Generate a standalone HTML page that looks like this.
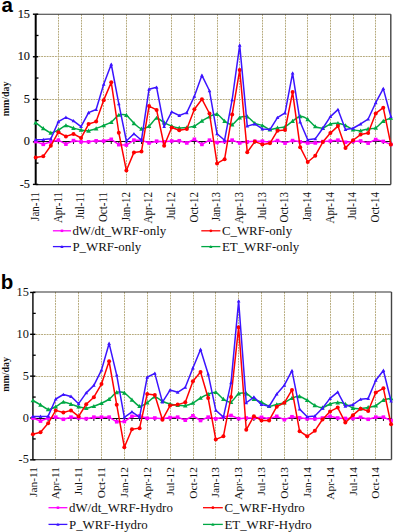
<!DOCTYPE html>
<html><head><meta charset="utf-8"><title>chart</title>
<style>html,body{margin:0;padding:0;background:#fff;}body{width:394px;height:532px;overflow:hidden;font-family:"Liberation Serif",serif;}svg{display:block;}</style>
</head><body>
<svg width="394" height="532" viewBox="0 0 394 532">
<rect width="394" height="532" fill="#fff"/>
<line x1="58.5" y1="14.3" x2="58.5" y2="184.5" stroke="#b6aa7c" stroke-width="1" stroke-dasharray="1.85,0.9"/>
<line x1="81.5" y1="14.3" x2="81.5" y2="184.5" stroke="#b6aa7c" stroke-width="1" stroke-dasharray="1.85,0.9"/>
<line x1="103.5" y1="14.3" x2="103.5" y2="184.5" stroke="#b6aa7c" stroke-width="1" stroke-dasharray="1.85,0.9"/>
<line x1="126.5" y1="14.3" x2="126.5" y2="184.5" stroke="#b6aa7c" stroke-width="1" stroke-dasharray="1.85,0.9"/>
<line x1="149.5" y1="14.3" x2="149.5" y2="184.5" stroke="#b6aa7c" stroke-width="1" stroke-dasharray="1.85,0.9"/>
<line x1="171.5" y1="14.3" x2="171.5" y2="184.5" stroke="#b6aa7c" stroke-width="1" stroke-dasharray="1.85,0.9"/>
<line x1="194.5" y1="14.3" x2="194.5" y2="184.5" stroke="#b6aa7c" stroke-width="1" stroke-dasharray="1.85,0.9"/>
<line x1="217.5" y1="14.3" x2="217.5" y2="184.5" stroke="#b6aa7c" stroke-width="1" stroke-dasharray="1.85,0.9"/>
<line x1="239.5" y1="14.3" x2="239.5" y2="184.5" stroke="#b6aa7c" stroke-width="1" stroke-dasharray="1.85,0.9"/>
<line x1="262.5" y1="14.3" x2="262.5" y2="184.5" stroke="#b6aa7c" stroke-width="1" stroke-dasharray="1.85,0.9"/>
<line x1="285.5" y1="14.3" x2="285.5" y2="184.5" stroke="#b6aa7c" stroke-width="1" stroke-dasharray="1.85,0.9"/>
<line x1="307.5" y1="14.3" x2="307.5" y2="184.5" stroke="#b6aa7c" stroke-width="1" stroke-dasharray="1.85,0.9"/>
<line x1="330.5" y1="14.3" x2="330.5" y2="184.5" stroke="#b6aa7c" stroke-width="1" stroke-dasharray="1.85,0.9"/>
<line x1="353.5" y1="14.3" x2="353.5" y2="184.5" stroke="#b6aa7c" stroke-width="1" stroke-dasharray="1.85,0.9"/>
<line x1="375.5" y1="14.3" x2="375.5" y2="184.5" stroke="#b6aa7c" stroke-width="1" stroke-dasharray="1.85,0.9"/>
<line x1="35.7" y1="99.5" x2="390.8" y2="99.5" stroke="#b6aa7c" stroke-width="1" stroke-dasharray="1.85,0.9"/>
<line x1="35.7" y1="56.5" x2="390.8" y2="56.5" stroke="#b6aa7c" stroke-width="1" stroke-dasharray="1.85,0.9"/>
<line x1="35.7" y1="14.3" x2="390.8" y2="14.3" stroke="#333" stroke-width="1.1"/>
<line x1="390.8" y1="14.3" x2="390.8" y2="184.5" stroke="#444" stroke-width="1.4"/>
<line x1="35.7" y1="184.5" x2="390.8" y2="184.5" stroke="#2a2a2a" stroke-width="1.25"/>
<line x1="35.7" y1="141.5" x2="390.8" y2="141.5" stroke="#111" stroke-width="1"/>
<line x1="43.26" y1="141.5" x2="43.26" y2="144" stroke="#111" stroke-width="1"/>
<line x1="50.81" y1="141.5" x2="50.81" y2="144" stroke="#111" stroke-width="1"/>
<line x1="58.37" y1="141.5" x2="58.37" y2="144" stroke="#111" stroke-width="1"/>
<line x1="65.92" y1="141.5" x2="65.92" y2="144" stroke="#111" stroke-width="1"/>
<line x1="73.48" y1="141.5" x2="73.48" y2="144" stroke="#111" stroke-width="1"/>
<line x1="81.04" y1="141.5" x2="81.04" y2="144" stroke="#111" stroke-width="1"/>
<line x1="88.59" y1="141.5" x2="88.59" y2="144" stroke="#111" stroke-width="1"/>
<line x1="96.15" y1="141.5" x2="96.15" y2="144" stroke="#111" stroke-width="1"/>
<line x1="103.7" y1="141.5" x2="103.7" y2="144" stroke="#111" stroke-width="1"/>
<line x1="111.26" y1="141.5" x2="111.26" y2="144" stroke="#111" stroke-width="1"/>
<line x1="118.82" y1="141.5" x2="118.82" y2="144" stroke="#111" stroke-width="1"/>
<line x1="126.37" y1="141.5" x2="126.37" y2="144" stroke="#111" stroke-width="1"/>
<line x1="133.93" y1="141.5" x2="133.93" y2="144" stroke="#111" stroke-width="1"/>
<line x1="141.48" y1="141.5" x2="141.48" y2="144" stroke="#111" stroke-width="1"/>
<line x1="149.04" y1="141.5" x2="149.04" y2="144" stroke="#111" stroke-width="1"/>
<line x1="156.6" y1="141.5" x2="156.6" y2="144" stroke="#111" stroke-width="1"/>
<line x1="164.15" y1="141.5" x2="164.15" y2="144" stroke="#111" stroke-width="1"/>
<line x1="171.71" y1="141.5" x2="171.71" y2="144" stroke="#111" stroke-width="1"/>
<line x1="179.26" y1="141.5" x2="179.26" y2="144" stroke="#111" stroke-width="1"/>
<line x1="186.82" y1="141.5" x2="186.82" y2="144" stroke="#111" stroke-width="1"/>
<line x1="194.38" y1="141.5" x2="194.38" y2="144" stroke="#111" stroke-width="1"/>
<line x1="201.93" y1="141.5" x2="201.93" y2="144" stroke="#111" stroke-width="1"/>
<line x1="209.49" y1="141.5" x2="209.49" y2="144" stroke="#111" stroke-width="1"/>
<line x1="217.04" y1="141.5" x2="217.04" y2="144" stroke="#111" stroke-width="1"/>
<line x1="224.6" y1="141.5" x2="224.6" y2="144" stroke="#111" stroke-width="1"/>
<line x1="232.16" y1="141.5" x2="232.16" y2="144" stroke="#111" stroke-width="1"/>
<line x1="239.71" y1="141.5" x2="239.71" y2="144" stroke="#111" stroke-width="1"/>
<line x1="247.27" y1="141.5" x2="247.27" y2="144" stroke="#111" stroke-width="1"/>
<line x1="254.82" y1="141.5" x2="254.82" y2="144" stroke="#111" stroke-width="1"/>
<line x1="262.38" y1="141.5" x2="262.38" y2="144" stroke="#111" stroke-width="1"/>
<line x1="269.94" y1="141.5" x2="269.94" y2="144" stroke="#111" stroke-width="1"/>
<line x1="277.49" y1="141.5" x2="277.49" y2="144" stroke="#111" stroke-width="1"/>
<line x1="285.05" y1="141.5" x2="285.05" y2="144" stroke="#111" stroke-width="1"/>
<line x1="292.6" y1="141.5" x2="292.6" y2="144" stroke="#111" stroke-width="1"/>
<line x1="300.16" y1="141.5" x2="300.16" y2="144" stroke="#111" stroke-width="1"/>
<line x1="307.72" y1="141.5" x2="307.72" y2="144" stroke="#111" stroke-width="1"/>
<line x1="315.27" y1="141.5" x2="315.27" y2="144" stroke="#111" stroke-width="1"/>
<line x1="322.83" y1="141.5" x2="322.83" y2="144" stroke="#111" stroke-width="1"/>
<line x1="330.38" y1="141.5" x2="330.38" y2="144" stroke="#111" stroke-width="1"/>
<line x1="337.94" y1="141.5" x2="337.94" y2="144" stroke="#111" stroke-width="1"/>
<line x1="345.5" y1="141.5" x2="345.5" y2="144" stroke="#111" stroke-width="1"/>
<line x1="353.05" y1="141.5" x2="353.05" y2="144" stroke="#111" stroke-width="1"/>
<line x1="360.61" y1="141.5" x2="360.61" y2="144" stroke="#111" stroke-width="1"/>
<line x1="368.16" y1="141.5" x2="368.16" y2="144" stroke="#111" stroke-width="1"/>
<line x1="375.72" y1="141.5" x2="375.72" y2="144" stroke="#111" stroke-width="1"/>
<line x1="383.28" y1="141.5" x2="383.28" y2="144" stroke="#111" stroke-width="1"/>
<line x1="390.83" y1="141.5" x2="390.83" y2="144" stroke="#111" stroke-width="1"/>
<line x1="35.7" y1="14.3" x2="35.7" y2="184.5" stroke="#000" stroke-width="2"/>
<line x1="32.9" y1="184.4" x2="38.2" y2="184.4" stroke="#000" stroke-width="1.4"/>
<line x1="32.9" y1="141.85" x2="38.2" y2="141.85" stroke="#000" stroke-width="1.4"/>
<line x1="32.9" y1="99.3" x2="38.2" y2="99.3" stroke="#000" stroke-width="1.4"/>
<line x1="32.9" y1="56.75" x2="38.2" y2="56.75" stroke="#000" stroke-width="1.4"/>
<line x1="32.9" y1="14.2" x2="38.2" y2="14.2" stroke="#000" stroke-width="1.4"/>
<line x1="35.7" y1="163.12" x2="38.5" y2="163.12" stroke="#000" stroke-width="1.3"/>
<line x1="35.7" y1="120.57" x2="38.5" y2="120.57" stroke="#000" stroke-width="1.3"/>
<line x1="35.7" y1="78.03" x2="38.5" y2="78.03" stroke="#000" stroke-width="1.3"/>
<line x1="35.7" y1="35.47" x2="38.5" y2="35.47" stroke="#000" stroke-width="1.3"/>
<text x="30" y="187.9" font-family="Liberation Serif" font-size="12.3" text-anchor="end" fill="#111" stroke="#111" stroke-width="0.15">-5</text>
<text x="30" y="145.35" font-family="Liberation Serif" font-size="12.3" text-anchor="end" fill="#111" stroke="#111" stroke-width="0.15">0</text>
<text x="30" y="102.8" font-family="Liberation Serif" font-size="12.3" text-anchor="end" fill="#111" stroke="#111" stroke-width="0.15">5</text>
<text x="30" y="60.25" font-family="Liberation Serif" font-size="12.3" text-anchor="end" fill="#111" stroke="#111" stroke-width="0.15">10</text>
<text x="30" y="17.7" font-family="Liberation Serif" font-size="12.3" text-anchor="end" fill="#111" stroke="#111" stroke-width="0.15">15</text>
<text transform="translate(39,192) rotate(-90) scale(1,1.05)" font-family="Liberation Serif" font-size="11.0" text-anchor="end" fill="#111" stroke="#111" stroke-width="0">Jan-11</text>
<text transform="translate(61.67,192) rotate(-90) scale(1,1.05)" font-family="Liberation Serif" font-size="11.0" text-anchor="end" fill="#111" stroke="#111" stroke-width="0">Apr-11</text>
<text transform="translate(84.34,192) rotate(-90) scale(1,1.05)" font-family="Liberation Serif" font-size="11.0" text-anchor="end" fill="#111" stroke="#111" stroke-width="0">Jul-11</text>
<text transform="translate(107,192) rotate(-90) scale(1,1.05)" font-family="Liberation Serif" font-size="11.0" text-anchor="end" fill="#111" stroke="#111" stroke-width="0">Oct-11</text>
<text transform="translate(129.67,192) rotate(-90) scale(1,1.05)" font-family="Liberation Serif" font-size="11.0" text-anchor="end" fill="#111" stroke="#111" stroke-width="0">Jan-12</text>
<text transform="translate(152.34,192) rotate(-90) scale(1,1.05)" font-family="Liberation Serif" font-size="11.0" text-anchor="end" fill="#111" stroke="#111" stroke-width="0">Apr-12</text>
<text transform="translate(175.01,192) rotate(-90) scale(1,1.05)" font-family="Liberation Serif" font-size="11.0" text-anchor="end" fill="#111" stroke="#111" stroke-width="0">Jul-12</text>
<text transform="translate(197.68,192) rotate(-90) scale(1,1.05)" font-family="Liberation Serif" font-size="11.0" text-anchor="end" fill="#111" stroke="#111" stroke-width="0">Oct-12</text>
<text transform="translate(220.34,192) rotate(-90) scale(1,1.05)" font-family="Liberation Serif" font-size="11.0" text-anchor="end" fill="#111" stroke="#111" stroke-width="0">Jan-13</text>
<text transform="translate(243.01,192) rotate(-90) scale(1,1.05)" font-family="Liberation Serif" font-size="11.0" text-anchor="end" fill="#111" stroke="#111" stroke-width="0">Apr-13</text>
<text transform="translate(265.68,192) rotate(-90) scale(1,1.05)" font-family="Liberation Serif" font-size="11.0" text-anchor="end" fill="#111" stroke="#111" stroke-width="0">Jul-13</text>
<text transform="translate(288.35,192) rotate(-90) scale(1,1.05)" font-family="Liberation Serif" font-size="11.0" text-anchor="end" fill="#111" stroke="#111" stroke-width="0">Oct-13</text>
<text transform="translate(311.02,192) rotate(-90) scale(1,1.05)" font-family="Liberation Serif" font-size="11.0" text-anchor="end" fill="#111" stroke="#111" stroke-width="0">Jan-14</text>
<text transform="translate(333.68,192) rotate(-90) scale(1,1.05)" font-family="Liberation Serif" font-size="11.0" text-anchor="end" fill="#111" stroke="#111" stroke-width="0">Apr-14</text>
<text transform="translate(356.35,192) rotate(-90) scale(1,1.05)" font-family="Liberation Serif" font-size="11.0" text-anchor="end" fill="#111" stroke="#111" stroke-width="0">Jul-14</text>
<text transform="translate(379.02,192) rotate(-90) scale(1,1.05)" font-family="Liberation Serif" font-size="11.0" text-anchor="end" fill="#111" stroke="#111" stroke-width="0">Oct-14</text>
<text transform="translate(9.1,98.9) rotate(-90) scale(0.95,1.08)" font-family="Liberation Serif" font-weight="bold" font-size="10.5" text-anchor="middle" fill="#111">mm/day</text>
<text x="1.4" y="11.6" font-family="Liberation Sans" font-weight="bold" font-size="20.5" fill="#000">a</text>
<path d="M35.7,141.59 L43.26,144.32 L50.81,141.85 L58.37,140.15 L65.92,144.15 L73.48,140.57 L81.04,141.85 L88.59,141.85 L96.15,140.83 L103.7,141 L111.26,139.3 L118.82,144.66 L126.37,145.08 L133.93,140.15 L141.48,140.15 L149.04,142.96 L156.6,141.17 L164.15,141.85 L171.71,141 L179.26,140.74 L186.82,142.96 L194.38,139.3 L201.93,144.4 L209.49,140.15 L217.04,142.53 L224.6,141.59 L232.16,140.15 L239.71,142.96 L247.27,141.85 L254.82,141.25 L262.38,141.17 L269.94,142.28 L277.49,140.57 L285.05,143.13 L292.6,140.57 L300.16,141.85 L307.72,142.96 L315.27,142.96 L322.83,141.59 L330.38,141 L337.94,140.15 L345.5,142.28 L353.05,141.42 L360.61,141 L368.16,143.13 L375.72,139.55 L383.28,141.42 L390.83,144.4" fill="none" stroke="#ff00ff" stroke-width="1.5" stroke-linejoin="round"/>
<rect x="33.9" y="139.79" width="3.6" height="3.6" fill="#ff00ff"/><rect x="41.46" y="142.52" width="3.6" height="3.6" fill="#ff00ff"/><rect x="49.01" y="140.05" width="3.6" height="3.6" fill="#ff00ff"/><rect x="56.57" y="138.35" width="3.6" height="3.6" fill="#ff00ff"/><rect x="64.12" y="142.35" width="3.6" height="3.6" fill="#ff00ff"/><rect x="71.68" y="138.77" width="3.6" height="3.6" fill="#ff00ff"/><rect x="79.24" y="140.05" width="3.6" height="3.6" fill="#ff00ff"/><rect x="86.79" y="140.05" width="3.6" height="3.6" fill="#ff00ff"/><rect x="94.35" y="139.03" width="3.6" height="3.6" fill="#ff00ff"/><rect x="101.9" y="139.2" width="3.6" height="3.6" fill="#ff00ff"/><rect x="109.46" y="137.5" width="3.6" height="3.6" fill="#ff00ff"/><rect x="117.02" y="142.86" width="3.6" height="3.6" fill="#ff00ff"/><rect x="124.57" y="143.28" width="3.6" height="3.6" fill="#ff00ff"/><rect x="132.13" y="138.35" width="3.6" height="3.6" fill="#ff00ff"/><rect x="139.68" y="138.35" width="3.6" height="3.6" fill="#ff00ff"/><rect x="147.24" y="141.16" width="3.6" height="3.6" fill="#ff00ff"/><rect x="154.8" y="139.37" width="3.6" height="3.6" fill="#ff00ff"/><rect x="162.35" y="140.05" width="3.6" height="3.6" fill="#ff00ff"/><rect x="169.91" y="139.2" width="3.6" height="3.6" fill="#ff00ff"/><rect x="177.46" y="138.94" width="3.6" height="3.6" fill="#ff00ff"/><rect x="185.02" y="141.16" width="3.6" height="3.6" fill="#ff00ff"/><rect x="192.58" y="137.5" width="3.6" height="3.6" fill="#ff00ff"/><rect x="200.13" y="142.6" width="3.6" height="3.6" fill="#ff00ff"/><rect x="207.69" y="138.35" width="3.6" height="3.6" fill="#ff00ff"/><rect x="215.24" y="140.73" width="3.6" height="3.6" fill="#ff00ff"/><rect x="222.8" y="139.79" width="3.6" height="3.6" fill="#ff00ff"/><rect x="230.36" y="138.35" width="3.6" height="3.6" fill="#ff00ff"/><rect x="237.91" y="141.16" width="3.6" height="3.6" fill="#ff00ff"/><rect x="245.47" y="140.05" width="3.6" height="3.6" fill="#ff00ff"/><rect x="253.02" y="139.45" width="3.6" height="3.6" fill="#ff00ff"/><rect x="260.58" y="139.37" width="3.6" height="3.6" fill="#ff00ff"/><rect x="268.14" y="140.48" width="3.6" height="3.6" fill="#ff00ff"/><rect x="275.69" y="138.77" width="3.6" height="3.6" fill="#ff00ff"/><rect x="283.25" y="141.33" width="3.6" height="3.6" fill="#ff00ff"/><rect x="290.8" y="138.77" width="3.6" height="3.6" fill="#ff00ff"/><rect x="298.36" y="140.05" width="3.6" height="3.6" fill="#ff00ff"/><rect x="305.92" y="141.16" width="3.6" height="3.6" fill="#ff00ff"/><rect x="313.47" y="141.16" width="3.6" height="3.6" fill="#ff00ff"/><rect x="321.03" y="139.79" width="3.6" height="3.6" fill="#ff00ff"/><rect x="328.58" y="139.2" width="3.6" height="3.6" fill="#ff00ff"/><rect x="336.14" y="138.35" width="3.6" height="3.6" fill="#ff00ff"/><rect x="343.7" y="140.48" width="3.6" height="3.6" fill="#ff00ff"/><rect x="351.25" y="139.62" width="3.6" height="3.6" fill="#ff00ff"/><rect x="358.81" y="139.2" width="3.6" height="3.6" fill="#ff00ff"/><rect x="366.36" y="141.33" width="3.6" height="3.6" fill="#ff00ff"/><rect x="373.92" y="137.75" width="3.6" height="3.6" fill="#ff00ff"/><rect x="381.48" y="139.62" width="3.6" height="3.6" fill="#ff00ff"/><rect x="389.03" y="142.6" width="3.6" height="3.6" fill="#ff00ff"/>
<path d="M35.7,122.7 C36.46,123.27 41.74,127.39 43.26,128.4 C44.77,129.42 49.3,132.67 50.81,132.83 C52.32,132.99 56.86,130.75 58.37,130.02 C59.88,129.29 64.41,125.7 65.92,125.51 C67.44,125.32 71.97,127.71 73.48,128.15 C74.99,128.59 79.52,129.67 81.04,129.94 C82.55,130.2 87.08,130.92 88.59,130.79 C90.1,130.65 94.64,129.11 96.15,128.57 C97.66,128.04 102.19,126.06 103.7,125.43 C105.22,124.79 109.75,123.24 111.26,122.19 C112.77,121.15 117.3,115.67 118.82,114.96 C120.33,114.24 124.86,114.21 126.37,115.04 C127.88,115.88 132.42,121.91 133.93,123.3 C135.44,124.69 139.97,128.63 141.48,128.91 C143,129.2 147.53,127.2 149.04,126.11 C150.55,125.02 155.08,118.37 156.6,118.02 C158.11,117.67 162.64,121.81 164.15,122.62 C165.66,123.43 170.2,125.58 171.71,126.11 C173.22,126.63 177.75,127.76 179.26,127.89 C180.78,128.03 185.31,127.65 186.82,127.47 C188.33,127.29 192.86,126.76 194.38,126.11 C195.89,125.45 200.42,121.87 201.93,120.92 C203.44,119.96 207.98,117.26 209.49,116.58 C211,115.89 215.53,113.66 217.04,114.11 C218.56,114.56 223.09,120.03 224.6,121.09 C226.11,122.14 230.64,125.01 232.16,124.66 C233.67,124.31 238.2,118.4 239.71,117.6 C241.22,116.79 245.76,116.01 247.27,116.58 C248.78,117.15 253.31,122.41 254.82,123.3 C256.34,124.18 260.87,124.8 262.38,125.43 C263.89,126.06 268.42,129.35 269.94,129.6 C271.45,129.84 275.98,128.17 277.49,127.89 C279,127.61 283.54,127.47 285.05,126.79 C286.56,126.11 291.09,122.13 292.6,121.09 C294.12,120.04 298.65,116.5 300.16,116.32 C301.67,116.14 306.2,118.28 307.72,119.3 C309.23,120.32 313.76,125.64 315.27,126.53 C316.78,127.43 321.32,128.49 322.83,128.23 C324.34,127.98 328.87,124.47 330.38,123.98 C331.9,123.49 336.43,123.15 337.94,123.3 C339.45,123.44 343.98,124.8 345.5,125.43 C347.01,126.06 351.54,129.07 353.05,129.6 C354.56,130.12 359.1,130.77 360.61,130.7 C362.12,130.63 366.65,129.2 368.16,128.91 C369.68,128.63 374.21,128.68 375.72,127.89 C377.23,127.11 381.76,122.07 383.28,121.09 C384.79,120.1 390.08,118.33 390.83,118.02" fill="none" stroke="#00a844" stroke-width="1.5" stroke-linejoin="round"/>
<path d="M35.7,120.4 L38,124.54 L33.4,124.54Z" fill="#00a844"/><path d="M43.26,126.1 L45.56,130.24 L40.96,130.24Z" fill="#00a844"/><path d="M50.81,130.53 L53.11,134.67 L48.51,134.67Z" fill="#00a844"/><path d="M58.37,127.72 L60.67,131.86 L56.07,131.86Z" fill="#00a844"/><path d="M65.92,123.21 L68.22,127.35 L63.62,127.35Z" fill="#00a844"/><path d="M73.48,125.85 L75.78,129.99 L71.18,129.99Z" fill="#00a844"/><path d="M81.04,127.64 L83.34,131.78 L78.74,131.78Z" fill="#00a844"/><path d="M88.59,128.49 L90.89,132.63 L86.29,132.63Z" fill="#00a844"/><path d="M96.15,126.27 L98.45,130.41 L93.85,130.41Z" fill="#00a844"/><path d="M103.7,123.13 L106,127.27 L101.4,127.27Z" fill="#00a844"/><path d="M111.26,119.89 L113.56,124.03 L108.96,124.03Z" fill="#00a844"/><path d="M118.82,112.66 L121.12,116.8 L116.52,116.8Z" fill="#00a844"/><path d="M126.37,112.74 L128.67,116.88 L124.07,116.88Z" fill="#00a844"/><path d="M133.93,121 L136.23,125.14 L131.63,125.14Z" fill="#00a844"/><path d="M141.48,126.61 L143.78,130.75 L139.18,130.75Z" fill="#00a844"/><path d="M149.04,123.81 L151.34,127.95 L146.74,127.95Z" fill="#00a844"/><path d="M156.6,115.72 L158.9,119.86 L154.3,119.86Z" fill="#00a844"/><path d="M164.15,120.32 L166.45,124.46 L161.85,124.46Z" fill="#00a844"/><path d="M171.71,123.81 L174.01,127.95 L169.41,127.95Z" fill="#00a844"/><path d="M179.26,125.59 L181.56,129.73 L176.96,129.73Z" fill="#00a844"/><path d="M186.82,125.17 L189.12,129.31 L184.52,129.31Z" fill="#00a844"/><path d="M194.38,123.81 L196.68,127.95 L192.08,127.95Z" fill="#00a844"/><path d="M201.93,118.62 L204.23,122.76 L199.63,122.76Z" fill="#00a844"/><path d="M209.49,114.28 L211.79,118.42 L207.19,118.42Z" fill="#00a844"/><path d="M217.04,111.81 L219.34,115.95 L214.74,115.95Z" fill="#00a844"/><path d="M224.6,118.79 L226.9,122.93 L222.3,122.93Z" fill="#00a844"/><path d="M232.16,122.36 L234.46,126.5 L229.86,126.5Z" fill="#00a844"/><path d="M239.71,115.3 L242.01,119.44 L237.41,119.44Z" fill="#00a844"/><path d="M247.27,114.28 L249.57,118.42 L244.97,118.42Z" fill="#00a844"/><path d="M254.82,121 L257.12,125.14 L252.52,125.14Z" fill="#00a844"/><path d="M262.38,123.13 L264.68,127.27 L260.08,127.27Z" fill="#00a844"/><path d="M269.94,127.3 L272.24,131.44 L267.64,131.44Z" fill="#00a844"/><path d="M277.49,125.59 L279.79,129.73 L275.19,129.73Z" fill="#00a844"/><path d="M285.05,124.49 L287.35,128.63 L282.75,128.63Z" fill="#00a844"/><path d="M292.6,118.79 L294.9,122.93 L290.3,122.93Z" fill="#00a844"/><path d="M300.16,114.02 L302.46,118.16 L297.86,118.16Z" fill="#00a844"/><path d="M307.72,117 L310.02,121.14 L305.42,121.14Z" fill="#00a844"/><path d="M315.27,124.23 L317.57,128.37 L312.97,128.37Z" fill="#00a844"/><path d="M322.83,125.93 L325.13,130.07 L320.53,130.07Z" fill="#00a844"/><path d="M330.38,121.68 L332.68,125.82 L328.08,125.82Z" fill="#00a844"/><path d="M337.94,121 L340.24,125.14 L335.64,125.14Z" fill="#00a844"/><path d="M345.5,123.13 L347.8,127.27 L343.2,127.27Z" fill="#00a844"/><path d="M353.05,127.3 L355.35,131.44 L350.75,131.44Z" fill="#00a844"/><path d="M360.61,128.4 L362.91,132.54 L358.31,132.54Z" fill="#00a844"/><path d="M368.16,126.61 L370.46,130.75 L365.86,130.75Z" fill="#00a844"/><path d="M375.72,125.59 L378.02,129.73 L373.42,129.73Z" fill="#00a844"/><path d="M383.28,118.79 L385.58,122.93 L380.98,122.93Z" fill="#00a844"/><path d="M390.83,115.72 L393.13,119.86 L388.53,119.86Z" fill="#00a844"/>
<path d="M35.7,157.59 L43.26,156.32 L50.81,145.76 L58.37,132.23 L65.92,136.4 L73.48,133.94 L81.04,138.02 L88.59,124.06 L96.15,121.6 L103.7,100.15 L111.26,82.37 L118.82,132.74 L126.37,170.53 L133.93,152.4 L141.48,151.47 L149.04,106.11 L156.6,109.94 L164.15,145.76 L171.71,127.47 L179.26,130.28 L186.82,128.91 L194.38,109.26 L201.93,99.21 L209.49,113.51 L217.04,163.38 L224.6,159.21 L232.16,114.62 L239.71,69.94 L247.27,152.23 L254.82,141.59 L262.38,144.4 L269.94,143.3 L277.49,130.7 L285.05,130.02 L292.6,92.07 L300.16,147.21 L307.72,162.02 L315.27,155.72 L322.83,142.02 L330.38,133.08 L337.94,126.11 L345.5,147.89 L353.05,140.23 L360.61,134.53 L368.16,133.08 L375.72,113.43 L383.28,107.72 L390.83,144.4" fill="none" stroke="#ff0000" stroke-width="1.5" stroke-linejoin="round"/>
<circle cx="35.7" cy="157.59" r="2" fill="#ff0000"/><circle cx="43.26" cy="156.32" r="2" fill="#ff0000"/><circle cx="50.81" cy="145.76" r="2" fill="#ff0000"/><circle cx="58.37" cy="132.23" r="2" fill="#ff0000"/><circle cx="65.92" cy="136.4" r="2" fill="#ff0000"/><circle cx="73.48" cy="133.94" r="2" fill="#ff0000"/><circle cx="81.04" cy="138.02" r="2" fill="#ff0000"/><circle cx="88.59" cy="124.06" r="2" fill="#ff0000"/><circle cx="96.15" cy="121.6" r="2" fill="#ff0000"/><circle cx="103.7" cy="100.15" r="2" fill="#ff0000"/><circle cx="111.26" cy="82.37" r="2" fill="#ff0000"/><circle cx="118.82" cy="132.74" r="2" fill="#ff0000"/><circle cx="126.37" cy="170.53" r="2" fill="#ff0000"/><circle cx="133.93" cy="152.4" r="2" fill="#ff0000"/><circle cx="141.48" cy="151.47" r="2" fill="#ff0000"/><circle cx="149.04" cy="106.11" r="2" fill="#ff0000"/><circle cx="156.6" cy="109.94" r="2" fill="#ff0000"/><circle cx="164.15" cy="145.76" r="2" fill="#ff0000"/><circle cx="171.71" cy="127.47" r="2" fill="#ff0000"/><circle cx="179.26" cy="130.28" r="2" fill="#ff0000"/><circle cx="186.82" cy="128.91" r="2" fill="#ff0000"/><circle cx="194.38" cy="109.26" r="2" fill="#ff0000"/><circle cx="201.93" cy="99.21" r="2" fill="#ff0000"/><circle cx="209.49" cy="113.51" r="2" fill="#ff0000"/><circle cx="217.04" cy="163.38" r="2" fill="#ff0000"/><circle cx="224.6" cy="159.21" r="2" fill="#ff0000"/><circle cx="232.16" cy="114.62" r="2" fill="#ff0000"/><circle cx="239.71" cy="69.94" r="2" fill="#ff0000"/><circle cx="247.27" cy="152.23" r="2" fill="#ff0000"/><circle cx="254.82" cy="141.59" r="2" fill="#ff0000"/><circle cx="262.38" cy="144.4" r="2" fill="#ff0000"/><circle cx="269.94" cy="143.3" r="2" fill="#ff0000"/><circle cx="277.49" cy="130.7" r="2" fill="#ff0000"/><circle cx="285.05" cy="130.02" r="2" fill="#ff0000"/><circle cx="292.6" cy="92.07" r="2" fill="#ff0000"/><circle cx="300.16" cy="147.21" r="2" fill="#ff0000"/><circle cx="307.72" cy="162.02" r="2" fill="#ff0000"/><circle cx="315.27" cy="155.72" r="2" fill="#ff0000"/><circle cx="322.83" cy="142.02" r="2" fill="#ff0000"/><circle cx="330.38" cy="133.08" r="2" fill="#ff0000"/><circle cx="337.94" cy="126.11" r="2" fill="#ff0000"/><circle cx="345.5" cy="147.89" r="2" fill="#ff0000"/><circle cx="353.05" cy="140.23" r="2" fill="#ff0000"/><circle cx="360.61" cy="134.53" r="2" fill="#ff0000"/><circle cx="368.16" cy="133.08" r="2" fill="#ff0000"/><circle cx="375.72" cy="113.43" r="2" fill="#ff0000"/><circle cx="383.28" cy="107.72" r="2" fill="#ff0000"/><circle cx="390.83" cy="144.4" r="2" fill="#ff0000"/>
<path d="M35.7,139.81 L43.26,139.55 L50.81,138.87 L58.37,121.68 L65.92,117.43 L73.48,120.83 L81.04,126.53 L88.59,112.66 L96.15,109.51 L103.7,84.32 L111.26,64.24 L118.82,103.9 L126.37,141 L133.93,133.77 L141.48,140.23 L149.04,89.17 L156.6,87.3 L164.15,126.53 L171.71,111.81 L179.26,115.47 L186.82,112.66 L194.38,96.24 L201.93,75.3 L209.49,90.79 L217.04,133.77 L224.6,140.23 L232.16,99.73 L239.71,45.18 L247.27,126.11 L254.82,123.98 L262.38,128.91 L269.94,129.6 L277.49,117.6 L285.05,112.92 L292.6,73.09 L300.16,121.94 L307.72,139.72 L315.27,138.87 L322.83,128.23 L330.38,116.58 L337.94,109.6 L345.5,129.6 L353.05,128.23 L360.61,123.98 L368.16,119.04 L375.72,102.7 L383.28,88.58 L390.83,116.58" fill="none" stroke="#3c14ff" stroke-width="1.5" stroke-linejoin="round"/>
<path d="M35.7,137.97 L37.54,141.28 L33.86,141.28Z" fill="#3c14ff"/><path d="M43.26,137.71 L45.1,141.02 L41.42,141.02Z" fill="#3c14ff"/><path d="M50.81,137.03 L52.65,140.34 L48.97,140.34Z" fill="#3c14ff"/><path d="M58.37,119.84 L60.21,123.15 L56.53,123.15Z" fill="#3c14ff"/><path d="M65.92,115.59 L67.76,118.9 L64.08,118.9Z" fill="#3c14ff"/><path d="M73.48,118.99 L75.32,122.3 L71.64,122.3Z" fill="#3c14ff"/><path d="M81.04,124.69 L82.88,128 L79.2,128Z" fill="#3c14ff"/><path d="M88.59,110.82 L90.43,114.13 L86.75,114.13Z" fill="#3c14ff"/><path d="M96.15,107.67 L97.99,110.98 L94.31,110.98Z" fill="#3c14ff"/><path d="M103.7,82.48 L105.54,85.79 L101.86,85.79Z" fill="#3c14ff"/><path d="M111.26,62.4 L113.1,65.71 L109.42,65.71Z" fill="#3c14ff"/><path d="M118.82,102.06 L120.66,105.37 L116.98,105.37Z" fill="#3c14ff"/><path d="M126.37,139.16 L128.21,142.47 L124.53,142.47Z" fill="#3c14ff"/><path d="M133.93,131.93 L135.77,135.24 L132.09,135.24Z" fill="#3c14ff"/><path d="M141.48,138.39 L143.32,141.71 L139.64,141.71Z" fill="#3c14ff"/><path d="M149.04,87.33 L150.88,90.65 L147.2,90.65Z" fill="#3c14ff"/><path d="M156.6,85.46 L158.44,88.77 L154.76,88.77Z" fill="#3c14ff"/><path d="M164.15,124.69 L165.99,128 L162.31,128Z" fill="#3c14ff"/><path d="M171.71,109.97 L173.55,113.28 L169.87,113.28Z" fill="#3c14ff"/><path d="M179.26,113.63 L181.1,116.94 L177.42,116.94Z" fill="#3c14ff"/><path d="M186.82,110.82 L188.66,114.13 L184.98,114.13Z" fill="#3c14ff"/><path d="M194.38,94.4 L196.22,97.71 L192.54,97.71Z" fill="#3c14ff"/><path d="M201.93,73.46 L203.77,76.77 L200.09,76.77Z" fill="#3c14ff"/><path d="M209.49,88.95 L211.33,92.26 L207.65,92.26Z" fill="#3c14ff"/><path d="M217.04,131.93 L218.88,135.24 L215.2,135.24Z" fill="#3c14ff"/><path d="M224.6,138.39 L226.44,141.71 L222.76,141.71Z" fill="#3c14ff"/><path d="M232.16,97.89 L234,101.2 L230.32,101.2Z" fill="#3c14ff"/><path d="M239.71,43.34 L241.55,46.65 L237.87,46.65Z" fill="#3c14ff"/><path d="M247.27,124.27 L249.11,127.58 L245.43,127.58Z" fill="#3c14ff"/><path d="M254.82,122.14 L256.66,125.45 L252.98,125.45Z" fill="#3c14ff"/><path d="M262.38,127.07 L264.22,130.39 L260.54,130.39Z" fill="#3c14ff"/><path d="M269.94,127.76 L271.78,131.07 L268.1,131.07Z" fill="#3c14ff"/><path d="M277.49,115.76 L279.33,119.07 L275.65,119.07Z" fill="#3c14ff"/><path d="M285.05,111.08 L286.89,114.39 L283.21,114.39Z" fill="#3c14ff"/><path d="M292.6,71.25 L294.44,74.56 L290.76,74.56Z" fill="#3c14ff"/><path d="M300.16,120.1 L302,123.41 L298.32,123.41Z" fill="#3c14ff"/><path d="M307.72,137.88 L309.56,141.19 L305.88,141.19Z" fill="#3c14ff"/><path d="M315.27,137.03 L317.11,140.34 L313.43,140.34Z" fill="#3c14ff"/><path d="M322.83,126.39 L324.67,129.71 L320.99,129.71Z" fill="#3c14ff"/><path d="M330.38,114.74 L332.22,118.05 L328.54,118.05Z" fill="#3c14ff"/><path d="M337.94,107.76 L339.78,111.07 L336.1,111.07Z" fill="#3c14ff"/><path d="M345.5,127.76 L347.34,131.07 L343.66,131.07Z" fill="#3c14ff"/><path d="M353.05,126.39 L354.89,129.71 L351.21,129.71Z" fill="#3c14ff"/><path d="M360.61,122.14 L362.45,125.45 L358.77,125.45Z" fill="#3c14ff"/><path d="M368.16,117.2 L370,120.52 L366.32,120.52Z" fill="#3c14ff"/><path d="M375.72,100.86 L377.56,104.18 L373.88,104.18Z" fill="#3c14ff"/><path d="M383.28,86.74 L385.12,90.05 L381.44,90.05Z" fill="#3c14ff"/><path d="M390.83,114.74 L392.67,118.05 L388.99,118.05Z" fill="#3c14ff"/>
<line x1="52.9" y1="230.8" x2="71" y2="230.8" stroke="#ff00ff" stroke-width="1.3"/>
<rect x="60.69" y="229.54" width="2.52" height="2.52" fill="#ff00ff"/>
<text transform="translate(72.4,234.9) scale(1,0.9)" font-family="Liberation Serif" font-size="12.9" fill="#111">dW/dt_WRF-only</text>
<line x1="201.3" y1="230.8" x2="220.4" y2="230.8" stroke="#ff0000" stroke-width="1.3"/>
<circle cx="210.85" cy="230.8" r="1.4" fill="#ff0000"/>
<text transform="translate(221.9,234.9) scale(1,0.9)" font-family="Liberation Serif" font-size="12.9" fill="#111">C_WRF-only</text>
<line x1="52.9" y1="246.6" x2="71" y2="246.6" stroke="#3c14ff" stroke-width="1.3"/>
<path d="M61.95,244.99 L63.56,247.89 L60.34,247.89Z" fill="#3c14ff"/>
<text transform="translate(72.4,250.7) scale(1,0.9)" font-family="Liberation Serif" font-size="12.9" fill="#111">P_WRF-only</text>
<line x1="201.3" y1="246.6" x2="220.4" y2="246.6" stroke="#00a844" stroke-width="1.3"/>
<path d="M210.85,244.99 L212.46,247.89 L209.24,247.89Z" fill="#00a844"/>
<text transform="translate(221.9,250.7) scale(1,0.9)" font-family="Liberation Serif" font-size="12.9" fill="#111">ET_WRF-only</text>
<line x1="55.5" y1="292" x2="55.5" y2="459.6" stroke="#b6aa7c" stroke-width="1" stroke-dasharray="1.85,0.9"/>
<line x1="78.5" y1="292" x2="78.5" y2="459.6" stroke="#b6aa7c" stroke-width="1" stroke-dasharray="1.85,0.9"/>
<line x1="101.5" y1="292" x2="101.5" y2="459.6" stroke="#b6aa7c" stroke-width="1" stroke-dasharray="1.85,0.9"/>
<line x1="124.5" y1="292" x2="124.5" y2="459.6" stroke="#b6aa7c" stroke-width="1" stroke-dasharray="1.85,0.9"/>
<line x1="147.5" y1="292" x2="147.5" y2="459.6" stroke="#b6aa7c" stroke-width="1" stroke-dasharray="1.85,0.9"/>
<line x1="170.5" y1="292" x2="170.5" y2="459.6" stroke="#b6aa7c" stroke-width="1" stroke-dasharray="1.85,0.9"/>
<line x1="193.5" y1="292" x2="193.5" y2="459.6" stroke="#b6aa7c" stroke-width="1" stroke-dasharray="1.85,0.9"/>
<line x1="215.5" y1="292" x2="215.5" y2="459.6" stroke="#b6aa7c" stroke-width="1" stroke-dasharray="1.85,0.9"/>
<line x1="238.5" y1="292" x2="238.5" y2="459.6" stroke="#b6aa7c" stroke-width="1" stroke-dasharray="1.85,0.9"/>
<line x1="261.5" y1="292" x2="261.5" y2="459.6" stroke="#b6aa7c" stroke-width="1" stroke-dasharray="1.85,0.9"/>
<line x1="284.5" y1="292" x2="284.5" y2="459.6" stroke="#b6aa7c" stroke-width="1" stroke-dasharray="1.85,0.9"/>
<line x1="307.5" y1="292" x2="307.5" y2="459.6" stroke="#b6aa7c" stroke-width="1" stroke-dasharray="1.85,0.9"/>
<line x1="330.5" y1="292" x2="330.5" y2="459.6" stroke="#b6aa7c" stroke-width="1" stroke-dasharray="1.85,0.9"/>
<line x1="353.5" y1="292" x2="353.5" y2="459.6" stroke="#b6aa7c" stroke-width="1" stroke-dasharray="1.85,0.9"/>
<line x1="375.5" y1="292" x2="375.5" y2="459.6" stroke="#b6aa7c" stroke-width="1" stroke-dasharray="1.85,0.9"/>
<line x1="32.9" y1="376.5" x2="391.5" y2="376.5" stroke="#b6aa7c" stroke-width="1" stroke-dasharray="1.85,0.9"/>
<line x1="32.9" y1="334.5" x2="391.5" y2="334.5" stroke="#b6aa7c" stroke-width="1" stroke-dasharray="1.85,0.9"/>
<line x1="32.9" y1="292" x2="391.5" y2="292" stroke="#333" stroke-width="1.1"/>
<line x1="391.5" y1="292" x2="391.5" y2="459.6" stroke="#444" stroke-width="1.4"/>
<line x1="32.9" y1="459.6" x2="391.5" y2="459.6" stroke="#4a4a4a" stroke-width="1.25"/>
<line x1="32.9" y1="418.5" x2="391.5" y2="418.5" stroke="#111" stroke-width="1"/>
<line x1="40.52" y1="418.5" x2="40.52" y2="421" stroke="#111" stroke-width="1"/>
<line x1="48.14" y1="418.5" x2="48.14" y2="421" stroke="#111" stroke-width="1"/>
<line x1="55.76" y1="418.5" x2="55.76" y2="421" stroke="#111" stroke-width="1"/>
<line x1="63.38" y1="418.5" x2="63.38" y2="421" stroke="#111" stroke-width="1"/>
<line x1="71" y1="418.5" x2="71" y2="421" stroke="#111" stroke-width="1"/>
<line x1="78.62" y1="418.5" x2="78.62" y2="421" stroke="#111" stroke-width="1"/>
<line x1="86.24" y1="418.5" x2="86.24" y2="421" stroke="#111" stroke-width="1"/>
<line x1="93.86" y1="418.5" x2="93.86" y2="421" stroke="#111" stroke-width="1"/>
<line x1="101.48" y1="418.5" x2="101.48" y2="421" stroke="#111" stroke-width="1"/>
<line x1="109.1" y1="418.5" x2="109.1" y2="421" stroke="#111" stroke-width="1"/>
<line x1="116.72" y1="418.5" x2="116.72" y2="421" stroke="#111" stroke-width="1"/>
<line x1="124.34" y1="418.5" x2="124.34" y2="421" stroke="#111" stroke-width="1"/>
<line x1="131.96" y1="418.5" x2="131.96" y2="421" stroke="#111" stroke-width="1"/>
<line x1="139.58" y1="418.5" x2="139.58" y2="421" stroke="#111" stroke-width="1"/>
<line x1="147.2" y1="418.5" x2="147.2" y2="421" stroke="#111" stroke-width="1"/>
<line x1="154.82" y1="418.5" x2="154.82" y2="421" stroke="#111" stroke-width="1"/>
<line x1="162.44" y1="418.5" x2="162.44" y2="421" stroke="#111" stroke-width="1"/>
<line x1="170.06" y1="418.5" x2="170.06" y2="421" stroke="#111" stroke-width="1"/>
<line x1="177.68" y1="418.5" x2="177.68" y2="421" stroke="#111" stroke-width="1"/>
<line x1="185.3" y1="418.5" x2="185.3" y2="421" stroke="#111" stroke-width="1"/>
<line x1="192.92" y1="418.5" x2="192.92" y2="421" stroke="#111" stroke-width="1"/>
<line x1="200.54" y1="418.5" x2="200.54" y2="421" stroke="#111" stroke-width="1"/>
<line x1="208.16" y1="418.5" x2="208.16" y2="421" stroke="#111" stroke-width="1"/>
<line x1="215.78" y1="418.5" x2="215.78" y2="421" stroke="#111" stroke-width="1"/>
<line x1="223.4" y1="418.5" x2="223.4" y2="421" stroke="#111" stroke-width="1"/>
<line x1="231.02" y1="418.5" x2="231.02" y2="421" stroke="#111" stroke-width="1"/>
<line x1="238.64" y1="418.5" x2="238.64" y2="421" stroke="#111" stroke-width="1"/>
<line x1="246.26" y1="418.5" x2="246.26" y2="421" stroke="#111" stroke-width="1"/>
<line x1="253.88" y1="418.5" x2="253.88" y2="421" stroke="#111" stroke-width="1"/>
<line x1="261.5" y1="418.5" x2="261.5" y2="421" stroke="#111" stroke-width="1"/>
<line x1="269.12" y1="418.5" x2="269.12" y2="421" stroke="#111" stroke-width="1"/>
<line x1="276.74" y1="418.5" x2="276.74" y2="421" stroke="#111" stroke-width="1"/>
<line x1="284.36" y1="418.5" x2="284.36" y2="421" stroke="#111" stroke-width="1"/>
<line x1="291.98" y1="418.5" x2="291.98" y2="421" stroke="#111" stroke-width="1"/>
<line x1="299.6" y1="418.5" x2="299.6" y2="421" stroke="#111" stroke-width="1"/>
<line x1="307.22" y1="418.5" x2="307.22" y2="421" stroke="#111" stroke-width="1"/>
<line x1="314.84" y1="418.5" x2="314.84" y2="421" stroke="#111" stroke-width="1"/>
<line x1="322.46" y1="418.5" x2="322.46" y2="421" stroke="#111" stroke-width="1"/>
<line x1="330.08" y1="418.5" x2="330.08" y2="421" stroke="#111" stroke-width="1"/>
<line x1="337.7" y1="418.5" x2="337.7" y2="421" stroke="#111" stroke-width="1"/>
<line x1="345.32" y1="418.5" x2="345.32" y2="421" stroke="#111" stroke-width="1"/>
<line x1="352.94" y1="418.5" x2="352.94" y2="421" stroke="#111" stroke-width="1"/>
<line x1="360.56" y1="418.5" x2="360.56" y2="421" stroke="#111" stroke-width="1"/>
<line x1="368.18" y1="418.5" x2="368.18" y2="421" stroke="#111" stroke-width="1"/>
<line x1="375.8" y1="418.5" x2="375.8" y2="421" stroke="#111" stroke-width="1"/>
<line x1="383.42" y1="418.5" x2="383.42" y2="421" stroke="#111" stroke-width="1"/>
<line x1="391.04" y1="418.5" x2="391.04" y2="421" stroke="#111" stroke-width="1"/>
<line x1="32.9" y1="292" x2="32.9" y2="459.6" stroke="#222" stroke-width="1.6"/>
<line x1="30.1" y1="459.85" x2="35.4" y2="459.85" stroke="#000" stroke-width="1.4"/>
<line x1="30.1" y1="418" x2="35.4" y2="418" stroke="#000" stroke-width="1.4"/>
<line x1="30.1" y1="376.15" x2="35.4" y2="376.15" stroke="#000" stroke-width="1.4"/>
<line x1="30.1" y1="334.3" x2="35.4" y2="334.3" stroke="#000" stroke-width="1.4"/>
<line x1="30.1" y1="292.45" x2="35.4" y2="292.45" stroke="#000" stroke-width="1.4"/>
<line x1="32.9" y1="438.93" x2="35.7" y2="438.93" stroke="#000" stroke-width="1.3"/>
<line x1="32.9" y1="397.07" x2="35.7" y2="397.07" stroke="#000" stroke-width="1.3"/>
<line x1="32.9" y1="355.23" x2="35.7" y2="355.23" stroke="#000" stroke-width="1.3"/>
<line x1="32.9" y1="313.38" x2="35.7" y2="313.38" stroke="#000" stroke-width="1.3"/>
<text x="28.8" y="463.35" font-family="Liberation Serif" font-size="12.3" text-anchor="end" fill="#111" stroke="#111" stroke-width="0">-5</text>
<text x="28.8" y="421.5" font-family="Liberation Serif" font-size="12.3" text-anchor="end" fill="#111" stroke="#111" stroke-width="0">0</text>
<text x="28.8" y="379.65" font-family="Liberation Serif" font-size="12.3" text-anchor="end" fill="#111" stroke="#111" stroke-width="0">5</text>
<text x="28.8" y="337.8" font-family="Liberation Serif" font-size="12.3" text-anchor="end" fill="#111" stroke="#111" stroke-width="0">10</text>
<text x="28.8" y="295.95" font-family="Liberation Serif" font-size="12.3" text-anchor="end" fill="#111" stroke="#111" stroke-width="0">15</text>
<text transform="translate(36.5,467.1) rotate(-90) scale(1,0.98)" font-family="Liberation Serif" font-size="11.4" text-anchor="end" fill="#111" stroke="#111" stroke-width="0">Jan-11</text>
<text transform="translate(59.36,467.1) rotate(-90) scale(1,0.98)" font-family="Liberation Serif" font-size="11.4" text-anchor="end" fill="#111" stroke="#111" stroke-width="0">Apr-11</text>
<text transform="translate(82.22,467.1) rotate(-90) scale(1,0.98)" font-family="Liberation Serif" font-size="11.4" text-anchor="end" fill="#111" stroke="#111" stroke-width="0">Jul-11</text>
<text transform="translate(105.08,467.1) rotate(-90) scale(1,0.98)" font-family="Liberation Serif" font-size="11.4" text-anchor="end" fill="#111" stroke="#111" stroke-width="0">Oct-11</text>
<text transform="translate(127.94,467.1) rotate(-90) scale(1,0.98)" font-family="Liberation Serif" font-size="11.4" text-anchor="end" fill="#111" stroke="#111" stroke-width="0">Jan-12</text>
<text transform="translate(150.8,467.1) rotate(-90) scale(1,0.98)" font-family="Liberation Serif" font-size="11.4" text-anchor="end" fill="#111" stroke="#111" stroke-width="0">Apr-12</text>
<text transform="translate(173.66,467.1) rotate(-90) scale(1,0.98)" font-family="Liberation Serif" font-size="11.4" text-anchor="end" fill="#111" stroke="#111" stroke-width="0">Jul-12</text>
<text transform="translate(196.52,467.1) rotate(-90) scale(1,0.98)" font-family="Liberation Serif" font-size="11.4" text-anchor="end" fill="#111" stroke="#111" stroke-width="0">Oct-12</text>
<text transform="translate(219.38,467.1) rotate(-90) scale(1,0.98)" font-family="Liberation Serif" font-size="11.4" text-anchor="end" fill="#111" stroke="#111" stroke-width="0">Jan-13</text>
<text transform="translate(242.24,467.1) rotate(-90) scale(1,0.98)" font-family="Liberation Serif" font-size="11.4" text-anchor="end" fill="#111" stroke="#111" stroke-width="0">Apr-13</text>
<text transform="translate(265.1,467.1) rotate(-90) scale(1,0.98)" font-family="Liberation Serif" font-size="11.4" text-anchor="end" fill="#111" stroke="#111" stroke-width="0">Jul-13</text>
<text transform="translate(287.96,467.1) rotate(-90) scale(1,0.98)" font-family="Liberation Serif" font-size="11.4" text-anchor="end" fill="#111" stroke="#111" stroke-width="0">Oct-13</text>
<text transform="translate(310.82,467.1) rotate(-90) scale(1,0.98)" font-family="Liberation Serif" font-size="11.4" text-anchor="end" fill="#111" stroke="#111" stroke-width="0">Jan-14</text>
<text transform="translate(333.68,467.1) rotate(-90) scale(1,0.98)" font-family="Liberation Serif" font-size="11.4" text-anchor="end" fill="#111" stroke="#111" stroke-width="0">Apr-14</text>
<text transform="translate(356.54,467.1) rotate(-90) scale(1,0.98)" font-family="Liberation Serif" font-size="11.4" text-anchor="end" fill="#111" stroke="#111" stroke-width="0">Jul-14</text>
<text transform="translate(379.4,467.1) rotate(-90) scale(1,0.98)" font-family="Liberation Serif" font-size="11.4" text-anchor="end" fill="#111" stroke="#111" stroke-width="0">Oct-14</text>
<text transform="translate(9.1,374.4) rotate(-90) scale(0.95,1.08)" font-family="Liberation Serif" font-weight="bold" font-size="10.5" text-anchor="middle" fill="#111">mm/day</text>
<text x="0.8" y="289" font-family="Liberation Sans" font-weight="bold" font-size="20.5" fill="#000">b</text>
<path d="M32.9,418 L40.52,421.1 L48.14,418 L55.76,417.16 L63.38,419.26 L71,417.16 L78.62,418 L86.24,418.67 L93.86,417.16 L101.48,417.16 L109.1,417.16 L116.72,421.77 L124.34,421.52 L131.96,416.33 L139.58,415.91 L147.2,418.25 L154.82,418 L162.44,418.67 L170.06,417.58 L177.68,417.16 L185.3,420.18 L192.92,415.74 L200.54,420.51 L208.16,417.16 L215.78,418.84 L223.4,417.33 L231.02,415.49 L238.64,418.67 L246.26,418 L253.88,418 L261.5,417.33 L269.12,418.84 L276.74,416.33 L284.36,419.67 L291.98,416.74 L299.6,417.75 L307.22,418.84 L314.84,418.84 L322.46,418 L330.08,416.33 L337.7,418 L345.32,418.42 L352.94,418.42 L360.56,417.33 L368.18,419.26 L375.8,417.16 L383.42,417.16 L391.04,420.51" fill="none" stroke="#ff00ff" stroke-width="1.5" stroke-linejoin="round"/>
<rect x="31.1" y="416.2" width="3.6" height="3.6" fill="#ff00ff"/><rect x="38.72" y="419.3" width="3.6" height="3.6" fill="#ff00ff"/><rect x="46.34" y="416.2" width="3.6" height="3.6" fill="#ff00ff"/><rect x="53.96" y="415.36" width="3.6" height="3.6" fill="#ff00ff"/><rect x="61.58" y="417.46" width="3.6" height="3.6" fill="#ff00ff"/><rect x="69.2" y="415.36" width="3.6" height="3.6" fill="#ff00ff"/><rect x="76.82" y="416.2" width="3.6" height="3.6" fill="#ff00ff"/><rect x="84.44" y="416.87" width="3.6" height="3.6" fill="#ff00ff"/><rect x="92.06" y="415.36" width="3.6" height="3.6" fill="#ff00ff"/><rect x="99.68" y="415.36" width="3.6" height="3.6" fill="#ff00ff"/><rect x="107.3" y="415.36" width="3.6" height="3.6" fill="#ff00ff"/><rect x="114.92" y="419.97" width="3.6" height="3.6" fill="#ff00ff"/><rect x="122.54" y="419.72" width="3.6" height="3.6" fill="#ff00ff"/><rect x="130.16" y="414.53" width="3.6" height="3.6" fill="#ff00ff"/><rect x="137.78" y="414.11" width="3.6" height="3.6" fill="#ff00ff"/><rect x="145.4" y="416.45" width="3.6" height="3.6" fill="#ff00ff"/><rect x="153.02" y="416.2" width="3.6" height="3.6" fill="#ff00ff"/><rect x="160.64" y="416.87" width="3.6" height="3.6" fill="#ff00ff"/><rect x="168.26" y="415.78" width="3.6" height="3.6" fill="#ff00ff"/><rect x="175.88" y="415.36" width="3.6" height="3.6" fill="#ff00ff"/><rect x="183.5" y="418.38" width="3.6" height="3.6" fill="#ff00ff"/><rect x="191.12" y="413.94" width="3.6" height="3.6" fill="#ff00ff"/><rect x="198.74" y="418.71" width="3.6" height="3.6" fill="#ff00ff"/><rect x="206.36" y="415.36" width="3.6" height="3.6" fill="#ff00ff"/><rect x="213.98" y="417.04" width="3.6" height="3.6" fill="#ff00ff"/><rect x="221.6" y="415.53" width="3.6" height="3.6" fill="#ff00ff"/><rect x="229.22" y="413.69" width="3.6" height="3.6" fill="#ff00ff"/><rect x="236.84" y="416.87" width="3.6" height="3.6" fill="#ff00ff"/><rect x="244.46" y="416.2" width="3.6" height="3.6" fill="#ff00ff"/><rect x="252.08" y="416.2" width="3.6" height="3.6" fill="#ff00ff"/><rect x="259.7" y="415.53" width="3.6" height="3.6" fill="#ff00ff"/><rect x="267.32" y="417.04" width="3.6" height="3.6" fill="#ff00ff"/><rect x="274.94" y="414.53" width="3.6" height="3.6" fill="#ff00ff"/><rect x="282.56" y="417.87" width="3.6" height="3.6" fill="#ff00ff"/><rect x="290.18" y="414.94" width="3.6" height="3.6" fill="#ff00ff"/><rect x="297.8" y="415.95" width="3.6" height="3.6" fill="#ff00ff"/><rect x="305.42" y="417.04" width="3.6" height="3.6" fill="#ff00ff"/><rect x="313.04" y="417.04" width="3.6" height="3.6" fill="#ff00ff"/><rect x="320.66" y="416.2" width="3.6" height="3.6" fill="#ff00ff"/><rect x="328.28" y="414.53" width="3.6" height="3.6" fill="#ff00ff"/><rect x="335.9" y="416.2" width="3.6" height="3.6" fill="#ff00ff"/><rect x="343.52" y="416.62" width="3.6" height="3.6" fill="#ff00ff"/><rect x="351.14" y="416.62" width="3.6" height="3.6" fill="#ff00ff"/><rect x="358.76" y="415.53" width="3.6" height="3.6" fill="#ff00ff"/><rect x="366.38" y="417.46" width="3.6" height="3.6" fill="#ff00ff"/><rect x="374" y="415.36" width="3.6" height="3.6" fill="#ff00ff"/><rect x="381.62" y="415.36" width="3.6" height="3.6" fill="#ff00ff"/><rect x="389.24" y="418.71" width="3.6" height="3.6" fill="#ff00ff"/>
<path d="M32.9,400.51 C33.66,400.94 39,403.97 40.52,404.86 C42.04,405.75 46.62,409.19 48.14,409.38 C49.66,409.57 54.24,407.52 55.76,406.78 C57.28,406.05 61.86,402.28 63.38,402.01 C64.9,401.75 69.48,403.63 71,404.11 C72.52,404.58 77.1,406.38 78.62,406.78 C80.14,407.19 84.72,408.18 86.24,408.12 C87.76,408.06 92.34,406.68 93.86,406.2 C95.38,405.71 99.96,403.97 101.48,403.27 C103,402.57 107.58,400.26 109.1,399.17 C110.62,398.07 115.2,392.93 116.72,392.3 C118.24,391.68 122.82,392.14 124.34,392.89 C125.86,393.64 130.44,398.5 131.96,399.84 C133.48,401.18 138.06,405.99 139.58,406.28 C141.1,406.57 145.68,403.72 147.2,402.77 C148.72,401.81 153.3,396.89 154.82,396.74 C156.34,396.59 160.92,400.54 162.44,401.26 C163.96,401.98 168.54,403.54 170.06,403.94 C171.58,404.34 176.16,405.11 177.68,405.28 C179.2,405.44 183.78,405.84 185.3,405.61 C186.82,405.39 191.4,403.78 192.92,403.02 C194.44,402.26 199.02,398.88 200.54,398 C202.06,397.11 206.64,394.72 208.16,394.15 C209.68,393.57 214.26,391.72 215.78,392.22 C217.3,392.72 221.88,398.18 223.4,399.17 C224.92,400.16 229.5,402.66 231.02,402.1 C232.54,401.54 237.12,394.41 238.64,393.56 C240.16,392.71 244.74,393 246.26,393.56 C247.78,394.12 252.36,398.31 253.88,399.17 C255.4,400.02 259.98,401.39 261.5,402.1 C263.02,402.81 267.6,406.05 269.12,406.28 C270.64,406.52 275.22,404.79 276.74,404.44 C278.26,404.09 282.84,403.39 284.36,402.77 C285.88,402.14 290.46,398.8 291.98,398.16 C293.5,397.53 298.08,396.2 299.6,396.41 C301.12,396.61 305.7,399.28 307.22,400.17 C308.74,401.07 313.32,404.62 314.84,405.36 C316.36,406.11 320.94,407.76 322.46,407.62 C323.98,407.49 328.56,404.52 330.08,404.02 C331.6,403.52 336.18,402.61 337.7,402.6 C339.22,402.59 343.8,403.39 345.32,403.94 C346.84,404.48 351.42,407.57 352.94,408.04 C354.46,408.51 359.04,408.69 360.56,408.63 C362.08,408.56 366.66,407.66 368.18,407.37 C369.7,407.08 374.28,406.42 375.8,405.7 C377.32,404.97 381.9,400.82 383.42,400.09 C384.94,399.36 390.28,398.58 391.04,398.41" fill="none" stroke="#00a844" stroke-width="1.5" stroke-linejoin="round"/>
<path d="M32.9,398.21 L35.2,402.35 L30.6,402.35Z" fill="#00a844"/><path d="M40.52,402.56 L42.82,406.7 L38.22,406.7Z" fill="#00a844"/><path d="M48.14,407.08 L50.44,411.22 L45.84,411.22Z" fill="#00a844"/><path d="M55.76,404.48 L58.06,408.62 L53.46,408.62Z" fill="#00a844"/><path d="M63.38,399.71 L65.68,403.85 L61.08,403.85Z" fill="#00a844"/><path d="M71,401.81 L73.3,405.95 L68.7,405.95Z" fill="#00a844"/><path d="M78.62,404.48 L80.92,408.62 L76.32,408.62Z" fill="#00a844"/><path d="M86.24,405.82 L88.54,409.96 L83.94,409.96Z" fill="#00a844"/><path d="M93.86,403.9 L96.16,408.04 L91.56,408.04Z" fill="#00a844"/><path d="M101.48,400.97 L103.78,405.11 L99.18,405.11Z" fill="#00a844"/><path d="M109.1,396.87 L111.4,401.01 L106.8,401.01Z" fill="#00a844"/><path d="M116.72,390 L119.02,394.14 L114.42,394.14Z" fill="#00a844"/><path d="M124.34,390.59 L126.64,394.73 L122.04,394.73Z" fill="#00a844"/><path d="M131.96,397.54 L134.26,401.68 L129.66,401.68Z" fill="#00a844"/><path d="M139.58,403.98 L141.88,408.12 L137.28,408.12Z" fill="#00a844"/><path d="M147.2,400.47 L149.5,404.61 L144.9,404.61Z" fill="#00a844"/><path d="M154.82,394.44 L157.12,398.58 L152.52,398.58Z" fill="#00a844"/><path d="M162.44,398.96 L164.74,403.1 L160.14,403.1Z" fill="#00a844"/><path d="M170.06,401.64 L172.36,405.78 L167.76,405.78Z" fill="#00a844"/><path d="M177.68,402.98 L179.98,407.12 L175.38,407.12Z" fill="#00a844"/><path d="M185.3,403.31 L187.6,407.45 L183,407.45Z" fill="#00a844"/><path d="M192.92,400.72 L195.22,404.86 L190.62,404.86Z" fill="#00a844"/><path d="M200.54,395.7 L202.84,399.84 L198.24,399.84Z" fill="#00a844"/><path d="M208.16,391.85 L210.46,395.99 L205.86,395.99Z" fill="#00a844"/><path d="M215.78,389.92 L218.08,394.06 L213.48,394.06Z" fill="#00a844"/><path d="M223.4,396.87 L225.7,401.01 L221.1,401.01Z" fill="#00a844"/><path d="M231.02,399.8 L233.32,403.94 L228.72,403.94Z" fill="#00a844"/><path d="M238.64,391.26 L240.94,395.4 L236.34,395.4Z" fill="#00a844"/><path d="M246.26,391.26 L248.56,395.4 L243.96,395.4Z" fill="#00a844"/><path d="M253.88,396.87 L256.18,401.01 L251.58,401.01Z" fill="#00a844"/><path d="M261.5,399.8 L263.8,403.94 L259.2,403.94Z" fill="#00a844"/><path d="M269.12,403.98 L271.42,408.12 L266.82,408.12Z" fill="#00a844"/><path d="M276.74,402.14 L279.04,406.28 L274.44,406.28Z" fill="#00a844"/><path d="M284.36,400.47 L286.66,404.61 L282.06,404.61Z" fill="#00a844"/><path d="M291.98,395.86 L294.28,400 L289.68,400Z" fill="#00a844"/><path d="M299.6,394.11 L301.9,398.25 L297.3,398.25Z" fill="#00a844"/><path d="M307.22,397.87 L309.52,402.01 L304.92,402.01Z" fill="#00a844"/><path d="M314.84,403.06 L317.14,407.2 L312.54,407.2Z" fill="#00a844"/><path d="M322.46,405.32 L324.76,409.46 L320.16,409.46Z" fill="#00a844"/><path d="M330.08,401.72 L332.38,405.86 L327.78,405.86Z" fill="#00a844"/><path d="M337.7,400.3 L340,404.44 L335.4,404.44Z" fill="#00a844"/><path d="M345.32,401.64 L347.62,405.78 L343.02,405.78Z" fill="#00a844"/><path d="M352.94,405.74 L355.24,409.88 L350.64,409.88Z" fill="#00a844"/><path d="M360.56,406.33 L362.86,410.47 L358.26,410.47Z" fill="#00a844"/><path d="M368.18,405.07 L370.48,409.21 L365.88,409.21Z" fill="#00a844"/><path d="M375.8,403.4 L378.1,407.54 L373.5,407.54Z" fill="#00a844"/><path d="M383.42,397.79 L385.72,401.93 L381.12,401.93Z" fill="#00a844"/><path d="M391.04,396.11 L393.34,400.25 L388.74,400.25Z" fill="#00a844"/>
<path d="M32.9,434.15 L40.52,432.23 L48.14,423.27 L55.76,410.38 L63.38,412.56 L71,410.38 L78.62,416.41 L86.24,404.27 L93.86,397.24 L101.48,384.02 L109.1,361.25 L116.72,404.86 L124.34,447.21 L131.96,429.3 L139.58,428.13 L147.2,393.89 L154.82,394.98 L162.44,419.67 L170.06,405.61 L177.68,404.61 L185.3,402.35 L192.92,381.17 L200.54,372.05 L208.16,398 L215.78,439.43 L223.4,436.33 L231.02,397.07 L238.64,327.19 L246.26,429.8 L253.88,416.16 L261.5,420.43 L269.12,420.43 L276.74,406.7 L284.36,402.77 L291.98,389.88 L299.6,431.22 L307.22,436.25 L314.84,430.81 L322.46,419.51 L330.08,411.39 L337.7,407.62 L345.32,422.6 L352.94,415.15 L360.56,408.63 L368.18,411.05 L375.8,392.47 L383.42,388.29 L391.04,424.28" fill="none" stroke="#ff0000" stroke-width="1.5" stroke-linejoin="round"/>
<circle cx="32.9" cy="434.15" r="2" fill="#ff0000"/><circle cx="40.52" cy="432.23" r="2" fill="#ff0000"/><circle cx="48.14" cy="423.27" r="2" fill="#ff0000"/><circle cx="55.76" cy="410.38" r="2" fill="#ff0000"/><circle cx="63.38" cy="412.56" r="2" fill="#ff0000"/><circle cx="71" cy="410.38" r="2" fill="#ff0000"/><circle cx="78.62" cy="416.41" r="2" fill="#ff0000"/><circle cx="86.24" cy="404.27" r="2" fill="#ff0000"/><circle cx="93.86" cy="397.24" r="2" fill="#ff0000"/><circle cx="101.48" cy="384.02" r="2" fill="#ff0000"/><circle cx="109.1" cy="361.25" r="2" fill="#ff0000"/><circle cx="116.72" cy="404.86" r="2" fill="#ff0000"/><circle cx="124.34" cy="447.21" r="2" fill="#ff0000"/><circle cx="131.96" cy="429.3" r="2" fill="#ff0000"/><circle cx="139.58" cy="428.13" r="2" fill="#ff0000"/><circle cx="147.2" cy="393.89" r="2" fill="#ff0000"/><circle cx="154.82" cy="394.98" r="2" fill="#ff0000"/><circle cx="162.44" cy="419.67" r="2" fill="#ff0000"/><circle cx="170.06" cy="405.61" r="2" fill="#ff0000"/><circle cx="177.68" cy="404.61" r="2" fill="#ff0000"/><circle cx="185.3" cy="402.35" r="2" fill="#ff0000"/><circle cx="192.92" cy="381.17" r="2" fill="#ff0000"/><circle cx="200.54" cy="372.05" r="2" fill="#ff0000"/><circle cx="208.16" cy="398" r="2" fill="#ff0000"/><circle cx="215.78" cy="439.43" r="2" fill="#ff0000"/><circle cx="223.4" cy="436.33" r="2" fill="#ff0000"/><circle cx="231.02" cy="397.07" r="2" fill="#ff0000"/><circle cx="238.64" cy="327.19" r="2" fill="#ff0000"/><circle cx="246.26" cy="429.8" r="2" fill="#ff0000"/><circle cx="253.88" cy="416.16" r="2" fill="#ff0000"/><circle cx="261.5" cy="420.43" r="2" fill="#ff0000"/><circle cx="269.12" cy="420.43" r="2" fill="#ff0000"/><circle cx="276.74" cy="406.7" r="2" fill="#ff0000"/><circle cx="284.36" cy="402.77" r="2" fill="#ff0000"/><circle cx="291.98" cy="389.88" r="2" fill="#ff0000"/><circle cx="299.6" cy="431.22" r="2" fill="#ff0000"/><circle cx="307.22" cy="436.25" r="2" fill="#ff0000"/><circle cx="314.84" cy="430.81" r="2" fill="#ff0000"/><circle cx="322.46" cy="419.51" r="2" fill="#ff0000"/><circle cx="330.08" cy="411.39" r="2" fill="#ff0000"/><circle cx="337.7" cy="407.62" r="2" fill="#ff0000"/><circle cx="345.32" cy="422.6" r="2" fill="#ff0000"/><circle cx="352.94" cy="415.15" r="2" fill="#ff0000"/><circle cx="360.56" cy="408.63" r="2" fill="#ff0000"/><circle cx="368.18" cy="411.05" r="2" fill="#ff0000"/><circle cx="375.8" cy="392.47" r="2" fill="#ff0000"/><circle cx="383.42" cy="388.29" r="2" fill="#ff0000"/><circle cx="391.04" cy="424.28" r="2" fill="#ff0000"/>
<path d="M32.9,416.41 L40.52,416.41 L48.14,416.16 L55.76,399 L63.38,394.48 L71,396.41 L78.62,403.69 L86.24,392.89 L93.86,385.36 L101.48,370.12 L109.1,343.42 L116.72,375.15 L124.34,417.33 L131.96,411.89 L139.58,417.08 L147.2,377.24 L154.82,373.39 L162.44,402.1 L170.06,390.04 L177.68,392.3 L185.3,387.28 L192.92,367.95 L200.54,349.45 L208.16,373.97 L215.78,410.22 L223.4,417.08 L231.02,382.85 L238.64,300.99 L246.26,402.77 L253.88,397.07 L261.5,404.61 L269.12,406.28 L276.74,393.98 L284.36,385.19 L291.98,370.71 L299.6,409.13 L307.22,416.74 L314.84,415.99 L322.46,408.29 L330.08,398.41 L337.7,392.05 L345.32,406.28 L352.94,404.69 L360.56,399.25 L368.18,398.41 L375.8,380.25 L383.42,370.46 L391.04,401.01" fill="none" stroke="#3c14ff" stroke-width="1.5" stroke-linejoin="round"/>
<path d="M32.9,414.57 L34.74,417.88 L31.06,417.88Z" fill="#3c14ff"/><path d="M40.52,414.57 L42.36,417.88 L38.68,417.88Z" fill="#3c14ff"/><path d="M48.14,414.32 L49.98,417.63 L46.3,417.63Z" fill="#3c14ff"/><path d="M55.76,397.16 L57.6,400.47 L53.92,400.47Z" fill="#3c14ff"/><path d="M63.38,392.64 L65.22,395.95 L61.54,395.95Z" fill="#3c14ff"/><path d="M71,394.57 L72.84,397.88 L69.16,397.88Z" fill="#3c14ff"/><path d="M78.62,401.85 L80.46,405.16 L76.78,405.16Z" fill="#3c14ff"/><path d="M86.24,391.05 L88.08,394.36 L84.4,394.36Z" fill="#3c14ff"/><path d="M93.86,383.52 L95.7,386.83 L92.02,386.83Z" fill="#3c14ff"/><path d="M101.48,368.28 L103.32,371.6 L99.64,371.6Z" fill="#3c14ff"/><path d="M109.1,341.58 L110.94,344.9 L107.26,344.9Z" fill="#3c14ff"/><path d="M116.72,373.31 L118.56,376.62 L114.88,376.62Z" fill="#3c14ff"/><path d="M124.34,415.49 L126.18,418.8 L122.5,418.8Z" fill="#3c14ff"/><path d="M131.96,410.05 L133.8,413.36 L130.12,413.36Z" fill="#3c14ff"/><path d="M139.58,415.24 L141.42,418.55 L137.74,418.55Z" fill="#3c14ff"/><path d="M147.2,375.4 L149.04,378.71 L145.36,378.71Z" fill="#3c14ff"/><path d="M154.82,371.55 L156.66,374.86 L152.98,374.86Z" fill="#3c14ff"/><path d="M162.44,400.26 L164.28,403.57 L160.6,403.57Z" fill="#3c14ff"/><path d="M170.06,388.2 L171.9,391.52 L168.22,391.52Z" fill="#3c14ff"/><path d="M177.68,390.46 L179.52,393.78 L175.84,393.78Z" fill="#3c14ff"/><path d="M185.3,385.44 L187.14,388.75 L183.46,388.75Z" fill="#3c14ff"/><path d="M192.92,366.11 L194.76,369.42 L191.08,369.42Z" fill="#3c14ff"/><path d="M200.54,347.61 L202.38,350.92 L198.7,350.92Z" fill="#3c14ff"/><path d="M208.16,372.13 L210,375.45 L206.32,375.45Z" fill="#3c14ff"/><path d="M215.78,408.38 L217.62,411.69 L213.94,411.69Z" fill="#3c14ff"/><path d="M223.4,415.24 L225.24,418.55 L221.56,418.55Z" fill="#3c14ff"/><path d="M231.02,381.01 L232.86,384.32 L229.18,384.32Z" fill="#3c14ff"/><path d="M238.64,299.15 L240.48,302.46 L236.8,302.46Z" fill="#3c14ff"/><path d="M246.26,400.93 L248.1,404.24 L244.42,404.24Z" fill="#3c14ff"/><path d="M253.88,395.24 L255.72,398.55 L252.04,398.55Z" fill="#3c14ff"/><path d="M261.5,402.77 L263.34,406.08 L259.66,406.08Z" fill="#3c14ff"/><path d="M269.12,404.44 L270.96,407.75 L267.28,407.75Z" fill="#3c14ff"/><path d="M276.74,392.14 L278.58,395.45 L274.9,395.45Z" fill="#3c14ff"/><path d="M284.36,383.35 L286.2,386.66 L282.52,386.66Z" fill="#3c14ff"/><path d="M291.98,368.87 L293.82,372.18 L290.14,372.18Z" fill="#3c14ff"/><path d="M299.6,407.29 L301.44,410.6 L297.76,410.6Z" fill="#3c14ff"/><path d="M307.22,414.9 L309.06,418.22 L305.38,418.22Z" fill="#3c14ff"/><path d="M314.84,414.15 L316.68,417.46 L313,417.46Z" fill="#3c14ff"/><path d="M322.46,406.45 L324.3,409.76 L320.62,409.76Z" fill="#3c14ff"/><path d="M330.08,396.57 L331.92,399.89 L328.24,399.89Z" fill="#3c14ff"/><path d="M337.7,390.21 L339.54,393.52 L335.86,393.52Z" fill="#3c14ff"/><path d="M345.32,404.44 L347.16,407.75 L343.48,407.75Z" fill="#3c14ff"/><path d="M352.94,402.85 L354.78,406.16 L351.1,406.16Z" fill="#3c14ff"/><path d="M360.56,397.41 L362.4,400.72 L358.72,400.72Z" fill="#3c14ff"/><path d="M368.18,396.57 L370.02,399.89 L366.34,399.89Z" fill="#3c14ff"/><path d="M375.8,378.41 L377.64,381.72 L373.96,381.72Z" fill="#3c14ff"/><path d="M383.42,368.62 L385.26,371.93 L381.58,371.93Z" fill="#3c14ff"/><path d="M391.04,399.17 L392.88,402.48 L389.2,402.48Z" fill="#3c14ff"/>
<line x1="48.5" y1="507.7" x2="67.4" y2="507.7" stroke="#ff00ff" stroke-width="1.3"/>
<rect x="56.69" y="506.44" width="2.52" height="2.52" fill="#ff00ff"/>
<text transform="translate(69,511.8) scale(1,0.9)" font-family="Liberation Serif" font-size="12.9" fill="#111">dW/dt_WRF-Hydro</text>
<line x1="203" y1="507.7" x2="222.8" y2="507.7" stroke="#ff0000" stroke-width="1.3"/>
<circle cx="212.9" cy="507.7" r="1.4" fill="#ff0000"/>
<text transform="translate(224.4,511.8) scale(1,0.9)" font-family="Liberation Serif" font-size="12.9" fill="#111">C_WRF-Hydro</text>
<line x1="48.5" y1="524.4" x2="67.4" y2="524.4" stroke="#3c14ff" stroke-width="1.3"/>
<path d="M57.95,522.79 L59.56,525.69 L56.34,525.69Z" fill="#3c14ff"/>
<text transform="translate(69,528.5) scale(1,0.9)" font-family="Liberation Serif" font-size="12.9" fill="#111">P_WRF-Hydro</text>
<line x1="203" y1="524.4" x2="222.8" y2="524.4" stroke="#00a844" stroke-width="1.3"/>
<path d="M212.9,522.79 L214.51,525.69 L211.29,525.69Z" fill="#00a844"/>
<text transform="translate(224.4,528.5) scale(1,0.9)" font-family="Liberation Serif" font-size="12.9" fill="#111">ET_WRF-Hydro</text>
</svg>
</body></html>
